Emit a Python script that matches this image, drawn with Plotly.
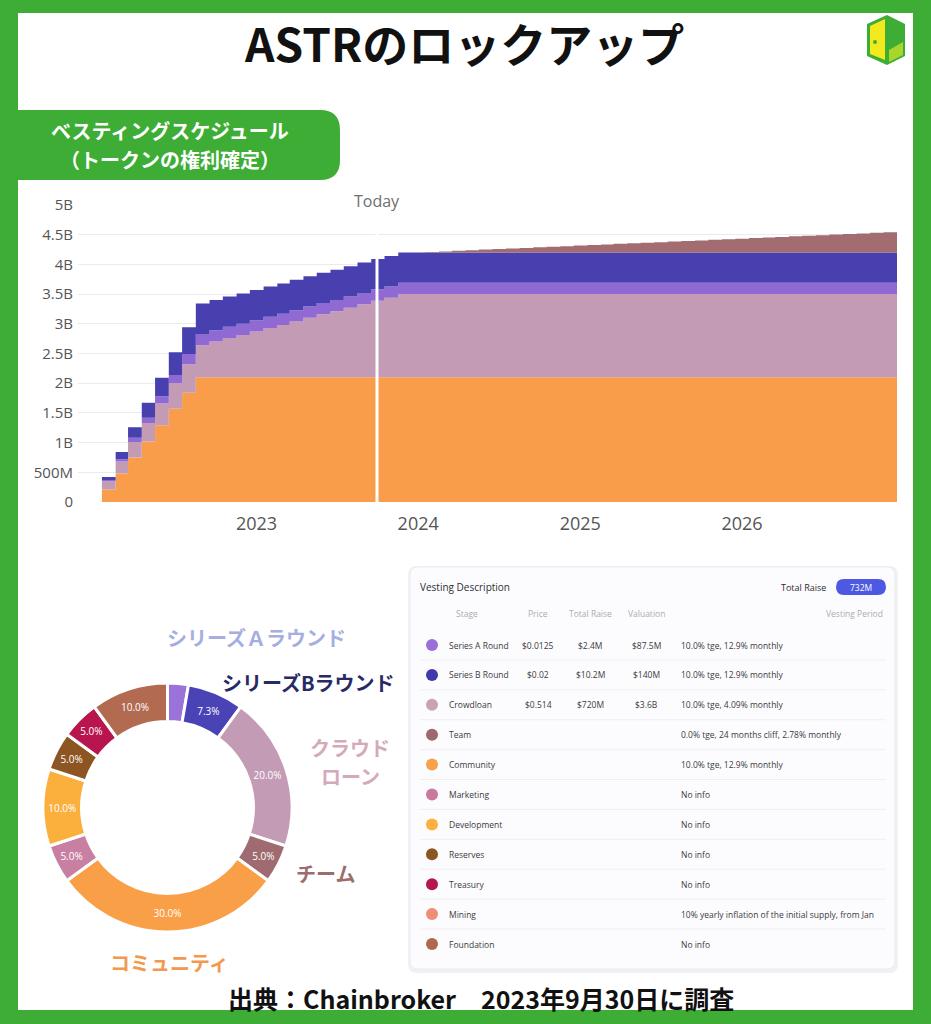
import plotly.graph_objects as go

W, H = 931, 1024
GREEN = "#3DAD35"
JP = "Noto Sans CJK JP"
UI = "Open Sans"


def px(x):
    return x / W


def py(y):
    return 1 - y / H


# ---------------- vesting schedule data (billions of ASTR, cumulative unlocked) ----------------
months = [f"{2022 + i // 12}-{i % 12 + 1:02d}-17" for i in range(60)]

community = [0.21, 0.48, 0.75, 1.02, 1.29, 1.57, 1.84, 2.10, 2.10, 2.10,
             2.10, 2.10, 2.10, 2.10, 2.10, 2.10, 2.10, 2.10, 2.10, 2.10,
             2.10, 2.10, 2.10, 2.10, 2.10, 2.10, 2.10, 2.10, 2.10, 2.10,
             2.10, 2.10, 2.10, 2.10, 2.10, 2.10, 2.10, 2.10, 2.10, 2.10,
             2.10, 2.10, 2.10, 2.10, 2.10, 2.10, 2.10, 2.10, 2.10, 2.10,
             2.10, 2.10, 2.10, 2.10, 2.10, 2.10, 2.10, 2.10, 2.10, 2.10]
crowdloan = [0.14, 0.20, 0.26, 0.31, 0.37, 0.43, 0.48, 0.54, 0.60, 0.66,
             0.71, 0.77, 0.83, 0.88, 0.94, 1.00, 1.06, 1.11, 1.17, 1.23,
             1.29, 1.34, 1.40, 1.40, 1.40, 1.40, 1.40, 1.40, 1.40, 1.40,
             1.40, 1.40, 1.40, 1.40, 1.40, 1.40, 1.40, 1.40, 1.40, 1.40,
             1.40, 1.40, 1.40, 1.40, 1.40, 1.40, 1.40, 1.40, 1.40, 1.40,
             1.40, 1.40, 1.40, 1.40, 1.40, 1.40, 1.40, 1.40, 1.40, 1.40]
series_a = [0.02, 0.04, 0.07, 0.09, 0.12, 0.14, 0.17, 0.19, 0.19, 0.19,
            0.19, 0.19, 0.19, 0.19, 0.19, 0.19, 0.19, 0.19, 0.19, 0.19,
            0.19, 0.19, 0.19, 0.19, 0.19, 0.19, 0.19, 0.19, 0.19, 0.19,
            0.19, 0.19, 0.19, 0.19, 0.19, 0.19, 0.19, 0.19, 0.19, 0.19,
            0.19, 0.19, 0.19, 0.19, 0.19, 0.19, 0.19, 0.19, 0.19, 0.19,
            0.19, 0.19, 0.19, 0.19, 0.19, 0.19, 0.19, 0.19, 0.19, 0.19]
series_b = [0.05, 0.12, 0.18, 0.25, 0.31, 0.38, 0.45, 0.51, 0.51, 0.51,
            0.51, 0.51, 0.51, 0.51, 0.51, 0.51, 0.51, 0.51, 0.51, 0.51,
            0.51, 0.51, 0.51, 0.51, 0.51, 0.51, 0.51, 0.51, 0.51, 0.51,
            0.51, 0.51, 0.51, 0.51, 0.51, 0.51, 0.51, 0.51, 0.51, 0.51,
            0.51, 0.51, 0.51, 0.51, 0.51, 0.51, 0.51, 0.51, 0.51, 0.51,
            0.51, 0.51, 0.51, 0.51, 0.51, 0.51, 0.51, 0.51, 0.51, 0.51]
team = [0.0, 0.0, 0.0, 0.0, 0.0, 0.0, 0.0, 0.0, 0.0, 0.0,
        0.0, 0.0, 0.0, 0.0, 0.0, 0.0, 0.0, 0.0, 0.0, 0.0,
        0.0, 0.0, 0.0, 0.0, 0.010, 0.019, 0.029, 0.039, 0.049, 0.058,
        0.068, 0.078, 0.088, 0.097, 0.107, 0.117, 0.126, 0.136, 0.146, 0.156,
        0.165, 0.175, 0.185, 0.195, 0.204, 0.214, 0.224, 0.233, 0.243, 0.253,
        0.263, 0.272, 0.282, 0.292, 0.302, 0.311, 0.321, 0.331, 0.340, 0.350]

stack_names = ["Community", "Crowdloan", "Series A Round", "Series B Round", "Team"]
stack_values = [community, crowdloan, series_a, series_b, team]
stack_colors = ["#F99D4A", "#C49BB4", "#9169D3", "#4840AE", "#A26C70"]

y_tickvals = [0, 0.5, 1, 1.5, 2, 2.5, 3, 3.5, 4, 4.5, 5]
y_ticktext = ["0", "500M", "1B", "1.5B", "2B", "2.5B", "3B", "3.5B", "4B", "4.5B", "5B"]
x_tickvals = ["2023-01-01", "2024-01-01", "2025-01-01", "2026-01-01"]
x_ticktext = ["2023", "2024", "2025", "2026"]
today = "2023-09-30"

# ---------------- allocation donut ----------------
alloc_labels = ["Series A Round", "Series B Round", "Crowdloan", "Team", "Community",
                "Marketing", "Development", "Reserves", "Treasury", "Foundation"]
alloc_values = [2.7, 7.3, 20.0, 5.0, 30.0, 5.0, 10.0, 5.0, 5.0, 10.0]
alloc_colors = ["#9B72D9", "#4A43B5", "#C49BB5", "#A06B70", "#F99F48",
                "#C97FA1", "#FBB03E", "#8C5522", "#B8154F", "#B26A50"]
alloc_text = ["", "7.3%", "20.0%", "5.0%", "30.0%", "5.0%", "10.0%", "5.0%", "5.0%", "10.0%"]

# ---------------- vesting description table ----------------
stages = ["Series A Round", "Series B Round", "Crowdloan", "Team", "Community", "Marketing",
          "Development", "Reserves", "Treasury", "Mining", "Foundation"]
prices = ["$0.0125", "$0.02", "$0.514", "", "", "", "", "", "", "", ""]
raises = ["$2.4M", "$10.2M", "$720M", "", "", "", "", "", "", "", ""]
valuations = ["$87.5M", "$140M", "$3.6B", "", "", "", "", "", "", "", ""]
periods = ["10.0% tge, 12.9% monthly", "10.0% tge, 12.9% monthly", "10.0% tge, 4.09% monthly",
           "0.0% tge, 24 months cliff, 2.78% monthly", "10.0% tge, 12.9% monthly", "No info",
           "No info", "No info", "No info",
           "10% yearly inflation of the initial supply, from Jan", "No info"]
dot_colors = ["#9A6FD8", "#3E3AA8", "#C9A2B6", "#A0686E", "#F9A04B", "#C9799E",
              "#FBB040", "#8A5523", "#B41650", "#EE8E74", "#B0674E"]

fig = go.Figure()

# stacked step areas
for name, vals, col in zip(stack_names, stack_values, stack_colors):
    fig.add_trace(go.Scatter(
        x=months, y=vals, name=name, mode="lines", stackgroup="vest",
        line=dict(width=0, shape="hv", color=col), fillcolor=col,
        hoverinfo="skip", showlegend=False, xaxis="x", yaxis="y"))

# donut
fig.add_trace(go.Pie(
    labels=alloc_labels, values=alloc_values, text=alloc_text, textinfo="text",
    hole=0.69, sort=False, direction="clockwise", rotation=0,
    marker=dict(colors=alloc_colors, line=dict(color="white", width=3)),
    textfont=dict(color="white", size=10, family=UI),
    insidetextorientation="horizontal", textposition="inside",
    domain=dict(x=[px(43), px(292)], y=[py(932), py(683)]),
    showlegend=False, hoverinfo="skip"))

# table colour dots (pixel-coordinate overlay axis)
row_y0, row_h = 645, 29.9
row_y = [row_y0 + i * row_h for i in range(len(stages))]
fig.add_trace(go.Scatter(
    x=[432] * len(stages), y=row_y, mode="markers",
    marker=dict(size=12, color=dot_colors, line=dict(width=0)),
    xaxis="x3", yaxis="y3", hoverinfo="skip", showlegend=False))

shapes = []


def P(pts):
    return " ".join(pts)


def pt(cmd, x, y):
    return f"{cmd}{px(x):.5f},{py(y):.5f}"


def q(cx, cy, x, y):
    return f"Q{px(cx):.5f},{py(cy):.5f} {px(x):.5f},{py(y):.5f}"


# white canvas inside green frame
shapes.append(dict(type="rect", xref="paper", yref="paper", x0=px(18), x1=px(913),
                   y0=py(1010), y1=py(13), fillcolor="white", line=dict(width=0), layer="below"))
# green label box with rounded right corners
label_path = P([pt("M", 18, 110), pt("L", 320, 110), q(340, 110, 340, 130),
                pt("L", 340, 160), q(340, 180, 320, 180), pt("L", 18, 180), "Z"])
shapes.append(dict(type="path", xref="paper", yref="paper", path=label_path,
                   fillcolor=GREEN, line=dict(width=0), layer="below"))

# logo
logo_outer = P([pt("M", 867, 24), pt("L", 887, 15), pt("L", 905, 24), pt("L", 905, 56),
                pt("L", 887, 65), pt("L", 867, 56), "Z"])
shapes.append(dict(type="path", xref="paper", yref="paper", path=logo_outer,
                   fillcolor=GREEN, line=dict(width=0), layer="above"))
logo_door = P([pt("M", 870, 26), pt("L", 885, 19), pt("L", 885, 60), pt("L", 870, 54), "Z"])
shapes.append(dict(type="path", xref="paper", yref="paper", path=logo_door,
                   fillcolor="#F2EA1D", line=dict(width=0), layer="above"))
logo_tri = P([pt("M", 889, 50), pt("L", 903, 42), pt("L", 903, 55), pt("L", 889, 62), "Z"])
shapes.append(dict(type="path", xref="paper", yref="paper", path=logo_tri,
                   fillcolor="#A9D62B", line=dict(width=0), layer="above"))
shapes.append(dict(type="circle", xref="paper", yref="paper", x0=px(873), x1=px(877),
                   y0=py(44), y1=py(40), fillcolor=GREEN, line=dict(width=0), layer="above"))


def rounded(x0, y0, x1, y1, r):
    return P([pt("M", x0 + r, y0), pt("L", x1 - r, y0), q(x1, y0, x1, y0 + r),
              pt("L", x1, y1 - r), q(x1, y1, x1 - r, y1),
              pt("L", x0 + r, y1), q(x0, y1, x0, y1 - r),
              pt("L", x0, y0 + r), q(x0, y0, x0 + r, y0), "Z"])


# table card (shadow + card)
shapes.append(dict(type="path", xref="paper", yref="paper", path=rounded(408, 566, 898, 973, 9),
                   fillcolor="#F1F1F5", line=dict(width=0), layer="below"))
shapes.append(dict(type="path", xref="paper", yref="paper", path=rounded(410, 567, 895, 969, 8),
                   fillcolor="#FCFCFE", line=dict(color="#ECECF1", width=1), layer="below"))
# pill
shapes.append(dict(type="path", xref="paper", yref="paper", path=rounded(836, 579, 886, 595, 8),
                   fillcolor="#4D59E3", line=dict(width=0), layer="below"))
# row separators
for i in range(len(stages) - 1):
    yy = row_y[i] + row_h / 2
    shapes.append(dict(type="line", xref="paper", yref="paper", x0=px(420), x1=px(886),
                       y0=py(yy), y1=py(yy), line=dict(color="#EFEFF3", width=1), layer="below"))

# Today line
shapes.append(dict(type="line", xref="x", yref="y", x0=today, x1=today, y0=0, y1=4.71,
                   line=dict(color="white", width=3), layer="above"))

anns = []


def T(x, y, text, size, color, xa="center", family=UI, bold=False, xref="paper", xval=None):
    anns.append(dict(
        x=xval if xval is not None else px(x), y=py(y), xref=xref, yref="paper",
        text=f"<b>{text}</b>" if bold else text, showarrow=False,
        xanchor=xa, yanchor="middle", font=dict(size=size, color=color, family=family)))


T(464, 42, "ASTRのロックアップ", 46, "#111111", family=JP, bold=True)
T(170, 130, "ベスティングスケジュール", 20, "white", family=JP, bold=True)
T(170, 159, "（トークンの権利確定）", 20, "white", family=JP, bold=True)
T(0, 201, "Today", 16, "#6E6E6E", xref="x", xval=today)
T(481, 998, "出典：Chainbroker　2023年9月30日に調査", 25, "#111111", family=JP, bold=True)

# donut labels
T(256, 637, "シリーズＡラウンド", 20, "#A6AEDF", family=JP, bold=True)
T(308, 682, "シリーズBラウンド", 20, "#272A64", family=JP, bold=True)
T(350, 747, "クラウド", 20, "#D4A9B9", family=JP, bold=True)
T(350, 776, "ローン", 20, "#D4A9B9", family=JP, bold=True)
T(325, 873, "チーム", 20, "#9A6D6F", family=JP, bold=True)
T(169, 962, "コミュニティ", 20, "#F3994F", family=JP, bold=True)

# table text
T(418, 587, "Vesting Description", 10, "#2E2E33", xa="left")
T(828, 587, "Total Raise", 9, "#2E2E33", xa="right")
T(861, 587, "732M", 8.5, "white")
T(467, 613, "Stage", 8.5, "#ABABB5")
T(538, 613, "Price", 8.5, "#ABABB5")
T(590, 613, "Total Raise", 8.5, "#ABABB5")
T(646, 613, "Valuation", 8.5, "#ABABB5")
T(885, 613, "Vesting Period", 8.5, "#ABABB5", xa="right")
for i, s in enumerate(stages):
    yy = row_y[i]
    T(447, yy, s, 8.5, "#3A3A40", xa="left")
    if prices[i]:
        T(538, yy, prices[i], 8.5, "#3A3A40")
        T(590, yy, raises[i], 8.5, "#3A3A40")
        T(646, yy, valuations[i], 8.5, "#3A3A40")
    T(679, yy, periods[i], 8.5, "#3A3A40", xa="left")

fig.update_layout(
    width=W, height=H, autosize=False,
    margin=dict(l=0, r=0, t=0, b=0, pad=0, autoexpand=False),
    paper_bgcolor=GREEN, plot_bgcolor="rgba(0,0,0,0)",
    showlegend=False,
    shapes=shapes, annotations=anns,
    xaxis=dict(domain=[px(78), px(897)], type="date",
               range=["2021-11-24", "2026-12-17"],
               tickvals=x_tickvals, ticktext=x_ticktext,
               tickfont=dict(size=18, color="#555555", family=UI),
               showgrid=False, zeroline=False, showline=False, ticks="",
               ticklabelstandoff=9, anchor="y", automargin=False),
    yaxis=dict(domain=[py(502), py(205)], range=[0, 5],
               tickvals=y_tickvals, ticktext=y_ticktext,
               tickfont=dict(size=15, color="#555555", family=UI),
               showgrid=True, gridcolor="#EBEBEF", gridwidth=1,
               zeroline=False, showline=False, ticks="", anchor="x",
               ticklabelstandoff=4, automargin=False),
    xaxis3=dict(domain=[0, 1], range=[0, W], visible=False, anchor="y3",
                fixedrange=True, automargin=False),
    yaxis3=dict(domain=[0, 1], range=[H, 0], visible=False, anchor="x3",
                fixedrange=True, automargin=False),
)

fig.write_html("out.html", config={"displayModeBar": False},
               post_script="document.body.style.margin='0';")
